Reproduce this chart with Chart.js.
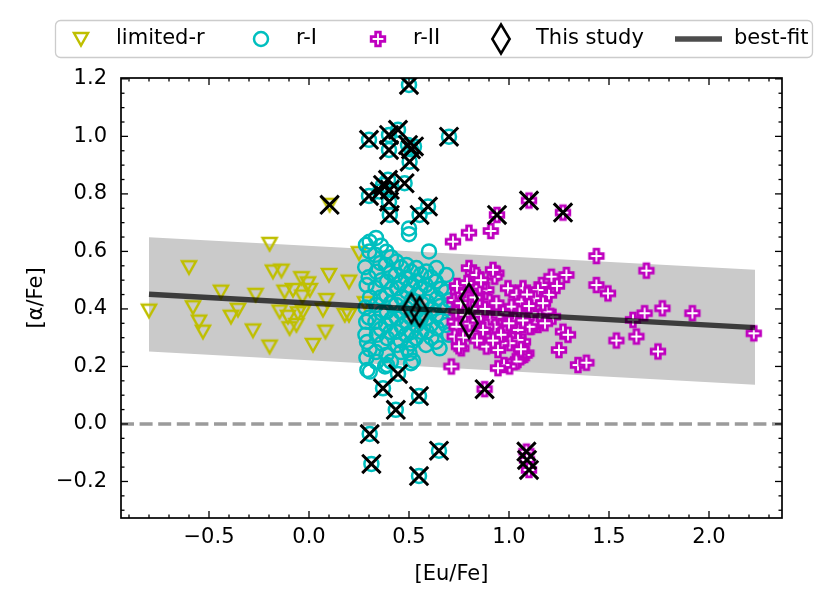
<!DOCTYPE html>
<html><head><meta charset="utf-8">
<script src="https://cdn.jsdelivr.net/npm/chart.js@4.4.1/dist/chart.umd.min.js"></script>
<style>html,body{margin:0;padding:0;background:#fff;}canvas{display:block;}</style>
</head><body>
<canvas id="c" width="830" height="603"></canvas>
<script>
// ---------------- data ----------------
const seriesNames = ['limited-r', 'r-I', 'r-II', 'This study', 'best-fit'];
const xLabel = '[Eu/Fe]';
const yLabel = '[\u03B1/Fe]';
const xTickValues = [-0.5, 0.0, 0.5, 1.0, 1.5, 2.0];
const yTickValues = [-0.2, 0.0, 0.2, 0.4, 0.6, 0.8, 1.0, 1.2];
const xRange = [-0.94, 2.365];
const yRange = [-0.327, 1.203];
const zeroLevel = 0;

const limitedR = [[-0.80,0.394],[-0.60,0.545],[-0.58,0.406],[-0.55,0.356],[-0.53,0.321],[-0.44,0.46],[-0.39,0.373],[-0.355,0.397],[-0.28,0.325],[-0.267,0.449],[-0.197,0.626],[-0.197,0.269],[-0.18,0.53],[-0.138,0.533],[-0.147,0.391],[-0.122,0.46],[-0.105,0.373],[-0.097,0.333],[-0.08,0.466],[-0.063,0.344],[-0.055,0.385],[-0.038,0.507],[-0.033,0.443],[-0.03,0.391],[-0.005,0.489],[0.004,0.466],[0.02,0.275],[0.082,0.321],[0.087,0.431],[0.10,0.518],[0.07,0.397],[0.179,0.379],[0.20,0.379],[0.20,0.495],[0.25,0.594],[0.28,0.42],[0.103,0.762]];

const rI = [[0.285,0.623],[0.281,0.545],[0.288,0.483],[0.283,0.405],[0.286,0.355],[0.282,0.31],[0.29,0.285],[0.287,0.23],[0.292,0.188],
[0.302,0.60],[0.298,0.51],[0.305,0.44],[0.3,0.37],[0.303,0.26],[0.304,0.182],
[0.335,0.647],[0.331,0.588],[0.338,0.529],[0.333,0.473],[0.336,0.414],[0.332,0.355],[0.339,0.31],[0.334,0.25],[0.337,0.216],
[0.36,0.62],[0.357,0.56],[0.363,0.50],[0.358,0.44],[0.362,0.385],[0.359,0.33],[0.364,0.28],[0.38,0.20],
[0.387,0.599],[0.384,0.553],[0.39,0.495],[0.386,0.449],[0.389,0.391],[0.385,0.344],[0.391,0.298],[0.387,0.24],[0.39,0.205],
[0.41,0.58],[0.407,0.525],[0.413,0.47],[0.409,0.42],[0.412,0.365],[0.408,0.32],[0.41,0.217],
[0.437,0.565],[0.434,0.518],[0.44,0.472],[0.436,0.414],[0.439,0.368],[0.435,0.321],[0.441,0.275],
[0.46,0.545],[0.457,0.49],[0.463,0.44],[0.459,0.39],[0.462,0.34],[0.458,0.29],[0.461,0.25],
[0.487,0.553],[0.484,0.507],[0.49,0.46],[0.486,0.402],[0.489,0.356],[0.485,0.31],[0.491,0.263],
[0.51,0.53],[0.507,0.48],[0.513,0.43],[0.509,0.37],[0.512,0.32],[0.508,0.28],[0.503,0.246],[0.51,0.211],
[0.537,0.542],[0.534,0.495],[0.54,0.449],[0.536,0.391],[0.539,0.344],[0.535,0.298],
[0.56,0.52],[0.557,0.47],[0.563,0.42],[0.559,0.365],[0.562,0.32],[0.52,0.22],
[0.587,0.53],[0.584,0.483],[0.59,0.425],[0.586,0.368],[0.589,0.321],[0.585,0.275],
[0.61,0.51],[0.607,0.455],[0.613,0.40],[0.609,0.345],[0.612,0.30],
[0.637,0.542],[0.634,0.495],[0.64,0.437],[0.636,0.379],[0.639,0.333],[0.635,0.286],
[0.66,0.47],[0.657,0.41],[0.663,0.36],[0.653,0.263],
[0.687,0.518],[0.684,0.46],[0.69,0.402],[0.686,0.344],[0.70,0.31],[0.703,0.43],
[0.60,0.60],[0.50,0.68],[0.50,0.66],[0.303,0.634],
[0.50,1.179],[0.30,0.988],[0.40,1.005],[0.445,1.023],[0.40,0.953],[0.495,0.97],[0.51,0.955],[0.525,0.965],[0.503,0.912],[0.70,0.999],[0.30,0.793],[0.37,0.831],[0.395,0.849],[0.354,0.808],[0.404,0.814],[0.478,0.837],[0.40,0.773],[0.404,0.727],[0.553,0.727],[0.595,0.756],
[0.445,0.174],[0.37,0.124],[0.55,0.097],[0.434,0.049],[0.3035,-0.035],[0.65,-0.093],[0.312,-0.139],[0.55,-0.181]];

const rII = [[0.72,0.634],[0.80,0.665],[0.909,0.671],[0.94,0.727],[1.10,0.777],[1.27,0.735],[1.437,0.584],[1.687,0.533],
[1.437,0.483],[1.495,0.454],[1.62,0.362],[1.637,0.304],[1.678,0.385],[1.767,0.402],[1.745,0.252],[1.917,0.385],[2.224,0.315],[1.537,0.29],[1.345,0.205],[1.387,0.213],
[1.287,0.518],[1.212,0.512],[1.20,0.449],[1.162,0.483],[1.145,0.466],[1.22,0.373],[1.27,0.321],[1.295,0.31],[1.25,0.257],[1.187,0.391],[1.128,0.437],[1.145,0.344],[1.112,0.338],[1.153,0.373],[1.128,0.35],[1.112,0.385],[1.103,0.338],[1.17,0.42],[1.24,0.48],[1.18,0.35],
[0.80,0.542],[0.82,0.525],[0.937,0.524],[0.928,0.512],[0.92,0.536],[0.837,0.518],
[0.995,0.472],[1.07,0.472],[1.037,0.449],[1.053,0.42],[1.02,0.397],[1.062,0.425],[1.012,0.408],[1.053,0.385],
[0.77,0.466],[0.845,0.466],[0.887,0.466],[0.853,0.478],[0.887,0.431],[0.903,0.425],[0.937,0.42],[0.853,0.408],[0.97,0.385],[0.937,0.373],[0.903,0.362],[0.928,0.338],[0.887,0.338],[0.87,0.327],[0.987,0.333],[1.045,0.327],[1.02,0.292],[1.07,0.286],[1.045,0.292],[1.003,0.281],[0.962,0.281],[0.887,0.269],[0.945,0.257],[1.087,0.246],[1.078,0.24],[1.053,0.234],[1.045,0.223],[1.037,0.217],[1.003,0.2],[0.975,0.205],[0.945,0.194],[0.762,0.263],[0.712,0.2],[0.812,0.315],[0.753,0.327],[0.728,0.356],[0.737,0.391],[0.728,0.431],[0.745,0.46],[0.737,0.338],[0.728,0.304],[0.803,0.35],
[0.76,0.42],[0.78,0.38],[0.77,0.30],[0.83,0.44],[0.84,0.36],[0.82,0.40],[0.86,0.38],[0.74,0.48],[0.79,0.49],[0.86,0.50],[0.88,0.40],[0.84,0.29],[0.75,0.27],
[1.09,0.45],[1.10,0.41],[1.03,0.36],[1.07,0.36],[1.00,0.35],[0.96,0.31],[1.06,0.26],[0.92,0.29],
[0.878,0.121],[1.087,-0.096],[1.09,-0.125],[1.10,-0.16]];

const thisStudy = [[0.512,0.402],[0.553,0.39],[0.80,0.437],[0.80,0.35]];

const flagged = [[0.50,1.179],[0.30,0.988],[0.40,1.005],[0.445,1.023],[0.40,0.953],[0.495,0.97],[0.51,0.955],[0.525,0.965],[0.503,0.912],[0.70,0.999],[0.30,0.793],[0.37,0.831],[0.395,0.849],[0.354,0.808],[0.404,0.814],[0.478,0.837],[0.40,0.773],[0.404,0.727],[0.553,0.727],[0.595,0.756],
[0.445,0.174],[0.37,0.124],[0.55,0.097],[0.434,0.049],[0.3035,-0.035],[0.65,-0.093],[0.312,-0.139],[0.55,-0.181],
[0.94,0.727],[1.10,0.777],[1.27,0.735],[0.878,0.121],[1.087,-0.096],[1.09,-0.125],[1.10,-0.16],[0.103,0.762]];

const fitX = [-0.80, 2.23];
const fitY = [0.451, 0.335];
const bandUpper = [0.649, 0.536];
const bandLower = [0.252, 0.136];

// ---------------- styles ----------------
const YEL = '#bfbf00', CYA = '#00bfbf', MAG = '#bf00bf';
const FONT = "'DejaVu Sans', sans-serif";
Chart.defaults.font.family = FONT;
Chart.defaults.font.size = 21;
Chart.defaults.color = '#000';

function mk(w, h, fn) { const c = document.createElement('canvas'); c.width = w; c.height = h; const g = c.getContext('2d'); fn(g, w / 2, h / 2); return c; }
const triImg = mk(24, 24, (g, cx, cy) => {
  g.strokeStyle = YEL; g.lineWidth = 2.5; g.lineJoin = 'miter';
  g.beginPath(); g.moveTo(cx - 7, cy - 6); g.lineTo(cx + 7, cy - 6); g.lineTo(cx, cy + 6.5); g.closePath(); g.stroke();
});
const plusImg = mk(24, 24, (g, cx, cy) => {
  const s = 6.8, a = 2.3;
  const pts = [[-a,-s],[a,-s],[a,-a],[s,-a],[s,a],[a,a],[a,s],[-a,s],[-a,a],[-s,a],[-s,-a],[-a,-a]];
  g.beginPath(); pts.forEach((p, i) => i ? g.lineTo(cx + p[0], cy + p[1]) : g.moveTo(cx + p[0], cy + p[1])); g.closePath();
  g.fillStyle = '#fff'; g.fill(); g.strokeStyle = MAG; g.lineWidth = 2.8; g.lineJoin = 'miter'; g.stroke();
});
const diaImg = mk(28, 42, (g, cx, cy) => {
  g.beginPath(); g.moveTo(cx, cy - 14.5); g.lineTo(cx + 8.7, cy); g.lineTo(cx, cy + 14.5); g.lineTo(cx - 8.7, cy); g.closePath();
  g.strokeStyle = '#000'; g.lineWidth = 2.5; g.lineJoin = 'miter'; g.stroke();
});

const toPts = arr => arr.map(p => ({ x: p[0], y: p[1] }));
const zip = (xs, ys) => xs.map((x, i) => ({ x: x, y: ys[i] }));
const fmt = v => (v < 0 ? '\u2212' : '') + Math.abs(v).toFixed(1);

// ---------------- plugins ----------------
const zeroLinePlugin = {
  id: 'zeroLine',
  beforeDatasetsDraw(chart) {
    const { ctx, chartArea: a, scales: { y } } = chart;
    const py = y.getPixelForValue(zeroLevel);
    ctx.save();
    ctx.strokeStyle = '#9b9b9b'; ctx.lineWidth = 3.5; ctx.setLineDash([13, 5.6]);
    ctx.beginPath(); ctx.moveTo(a.left, py); ctx.lineTo(a.right, py); ctx.stroke();
    ctx.restore();
  }
};

const framePlugin = {
  id: 'frameTicks',
  afterDatasetsDraw(chart) {
    const { ctx, chartArea: a, scales: { x, y } } = chart;
    ctx.save();
    ctx.strokeStyle = '#000'; ctx.lineWidth = 1.3;
    const seg = (x1, y1, x2, y2) => { ctx.beginPath(); ctx.moveTo(x1, y1); ctx.lineTo(x2, y2); ctx.stroke(); };
    const xt = (v, len) => { const p = x.getPixelForValue(v); seg(p, a.bottom, p, a.bottom - len); seg(p, a.top, p, a.top + len); };
    const yt = (v, len) => { const p = y.getPixelForValue(v); seg(a.left, p, a.left + len, p); seg(a.right, p, a.right - len, p); };
    for (let k = Math.ceil(x.min / 0.1 - 1e-9); k * 0.1 <= x.max + 1e-9; k++) if (k % 5 !== 0) xt(k * 0.1, 3.5);
    for (let k = Math.ceil(y.min / 0.05 - 1e-9); k * 0.05 <= y.max + 1e-9; k++) if (k % 4 !== 0) yt(k * 0.05, 3.5);
    xTickValues.forEach(v => xt(v, 7));
    yTickValues.forEach(v => yt(v, 7));
    ctx.lineWidth = 1.7;
    ctx.strokeRect(a.left, a.top, a.right - a.left, a.bottom - a.top);
    ctx.restore();
  }
};

const legendPlugin = {
  id: 'frameLegend',
  afterDraw(chart) {
    const ctx = chart.ctx;
    const cy = 39;
    ctx.save();
    const L = 55.5, T = 20.5, W = 757, H = 37, r = 5;
    ctx.beginPath();
    ctx.moveTo(L + r, T); ctx.lineTo(L + W - r, T); ctx.arcTo(L + W, T, L + W, T + r, r);
    ctx.lineTo(L + W, T + H - r); ctx.arcTo(L + W, T + H, L + W - r, T + H, r);
    ctx.lineTo(L + r, T + H); ctx.arcTo(L, T + H, L, T + H - r, r);
    ctx.lineTo(L, T + r); ctx.arcTo(L, T, L + r, T, r); ctx.closePath();
    ctx.fillStyle = 'rgba(255,255,255,0.8)'; ctx.fill();
    ctx.strokeStyle = '#cccccc'; ctx.lineWidth = 1.3; ctx.stroke();

    ctx.drawImage(triImg, 81 - triImg.width / 2, cy - triImg.height / 2);
    ctx.beginPath(); ctx.arc(261, cy, 7, 0, Math.PI * 2); ctx.strokeStyle = CYA; ctx.lineWidth = 2.5; ctx.stroke();
    ctx.drawImage(plusImg, 378 - plusImg.width / 2, cy - plusImg.height / 2);
    ctx.drawImage(diaImg, 501 - diaImg.width / 2, cy - diaImg.height / 2);
    ctx.beginPath(); ctx.moveTo(675, cy); ctx.lineTo(722, cy); ctx.strokeStyle = 'rgba(0,0,0,0.7)'; ctx.lineWidth = 5.5; ctx.stroke();

    ctx.fillStyle = '#000'; ctx.font = '21px ' + FONT; ctx.textBaseline = 'middle'; ctx.textAlign = 'left';
    const tx = [116, 296, 413, 536, 734];
    seriesNames.forEach((n, i) => ctx.fillText(n, tx[i], cy));
    ctx.restore();
  }
};

// ---------------- chart ----------------
new Chart(document.getElementById('c'), {
  type: 'scatter',
  data: {
    datasets: [
      { label: 'band upper', data: zip(fitX, bandUpper), showLine: true, borderColor: 'rgba(0,0,0,0)', borderWidth: 1, pointRadius: 0, fill: '+1', backgroundColor: '#cacaca', order: 10 },
      { label: 'band lower', data: zip(fitX, bandLower), showLine: true, borderColor: 'rgba(0,0,0,0)', borderWidth: 1, pointRadius: 0, fill: false, order: 10 },
      { label: seriesNames[0], data: toPts(limitedR), pointStyle: triImg, pointRadius: 8, order: 7 },
      { label: seriesNames[1], data: toPts(rI), pointStyle: 'circle', pointRadius: 7, borderWidth: 2.5, borderColor: CYA, backgroundColor: 'rgba(0,0,0,0)', order: 6 },
      { label: seriesNames[2], data: toPts(rII), pointStyle: plusImg, pointRadius: 8, order: 5 },
      { label: seriesNames[4], data: zip(fitX, fitY), showLine: true, borderColor: 'rgba(0,0,0,0.7)', borderWidth: 5.5, borderCapStyle: 'butt', pointRadius: 0, order: 4 },
      { label: seriesNames[3], data: toPts(thisStudy), pointStyle: diaImg, pointRadius: 10, order: 3 },
      { label: 'flagged', data: toPts(flagged), pointStyle: 'crossRot', pointRadius: 13, borderWidth: 3, borderColor: '#000', order: 2 }
    ]
  },
  options: {
    responsive: false,
    animation: false,
    events: [],
    layout: { padding: { left: 0, top: 78, right: 48, bottom: 0 } },
    plugins: { legend: { display: false }, tooltip: { enabled: false }, filler: { drawTime: 'beforeDatasetsDraw' } },
    scales: {
      x: {
        type: 'linear', min: xRange[0], max: xRange[1],
        afterBuildTicks: s => { s.ticks = xTickValues.map(v => ({ value: v })); },
        afterFit: s => { s.height = 85; },
        grid: { display: false, drawTicks: false },
        border: { display: false },
        ticks: { padding: 7, autoSkip: false, maxRotation: 0, color: '#000', font: { size: 21 }, callback: v => fmt(v) },
        title: { display: true, text: xLabel, color: '#000', font: { size: 21 }, padding: { top: 0, bottom: 16 } }
      },
      y: {
        type: 'linear', min: yRange[0], max: yRange[1],
        afterBuildTicks: s => { s.ticks = yTickValues.map(v => ({ value: v })); },
        afterFit: s => { s.width = 121; },
        grid: { display: false, drawTicks: false },
        border: { display: false },
        ticks: { padding: 14, autoSkip: false, color: '#000', font: { size: 21 }, callback: v => fmt(v) },
        title: { display: true, text: yLabel, color: '#000', font: { size: 21 }, padding: { top: 24, bottom: 0 } }
      }
    }
  },
  plugins: [zeroLinePlugin, framePlugin, legendPlugin]
});
</script>
</body></html>
